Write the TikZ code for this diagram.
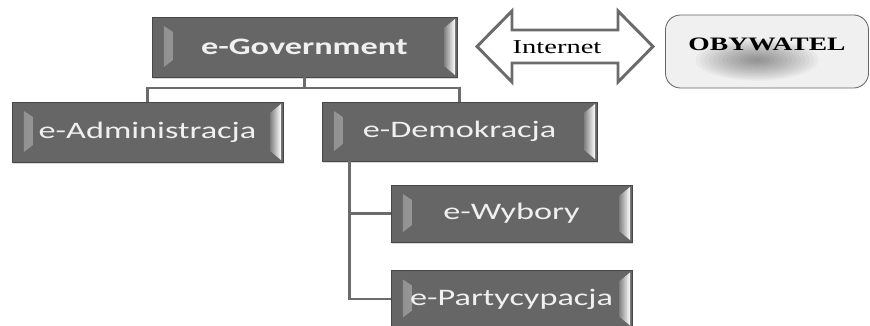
\documentclass[tikz,border=0pt]{standalone}
\usepackage{fontspec}
\setmainfont{Liberation Serif}
\newfontfamily\calibri{Carlito}
\usetikzlibrary{shadows}
\newcommand{\wtext}[1]{\scalebox{1.45}[1]{#1}}
\tikzset{
	smartbox/.style={rectangle, fill=black!60, draw=black!72, line width=0.6pt, text=white!94!black, inner sep=0pt,
		font=\calibri\fontsize{16.8}{18}\selectfont,
		drop shadow={opacity=0.3, shadow xshift=1pt, shadow yshift=-1.5pt},
		path picture={
			\shade[left color=black!45, right color=white] ([shift={(0.3cm,-0.225cm)}]path picture bounding box.north west) -- ([shift={(0.525cm,-0.375cm)}]path picture bounding box.north west) -- ([shift={(0.525cm,0.425cm)}]path picture bounding box.south west) -- ([shift={(0.3cm,0.25cm)}]path picture bounding box.south west) -- cycle;
			\shade[left color=black!50, right color=white] ([shift={(-0.325cm,-0.275cm)}]path picture bounding box.north east) -- ([shift={(-0.05cm,-0.05cm)}]path picture bounding box.north east) -- ([shift={(-0.05cm,0.05cm)}]path picture bounding box.south east) -- ([shift={(-0.325cm,0.275cm)}]path picture bounding box.south east) -- cycle;
		}},
	link/.style={draw=black!58, line width=2.1pt},
	citizen/.style={rectangle, rounded corners=0.375cm, draw=black!60, line width=0.6pt, fill=black!6, inner sep=0pt,
		text height=0.3cm, text depth=0.35cm,
		font=\bfseries\fontsize{13.5}{15}\selectfont,
		path picture={
			\foreach \r in {1,...,14}
				\fill[black, opacity=0.03] ([shift={(-0.25cm,-0.21cm)}]path picture bounding box.center) ellipse ({0.11cm*\r} and {0.037cm*\r});
		}}
}
\begin{document}
\begin{tikzpicture}[x=0.025cm,y=-0.025cm]
\useasboundingbox (0,0) rectangle (870,326);

% tree of boxes
\node[smartbox, minimum width=7.625cm, minimum height=1.5cm] (gov) at (304.5,47) {\wtext{\textbf{e-Government}}};
\node[smartbox, minimum width=6.775cm, minimum height=1.5cm] (adm) at (147.5,132) {\wtext{e-Administracja}};
\node[smartbox, minimum width=6.875cm, minimum height=1.475cm] (dem) at (459.5,131.5) {\wtext{e-Demokracja}};
\node[smartbox, minimum width=6.025cm, minimum height=1.425cm] (wyb) at (511.5,213.5) {\wtext{e-Wybory}};
\node[smartbox, minimum width=6.025cm, minimum height=1.425cm] (par) at (511.5,299) {\wtext{e-Partycypacja}};

\coordinate (bus) at (304.5,88);
\coordinate (trunk) at ([xshift=0.7cm]dem.south west);
\draw[link] (gov.south) -- (bus);
\draw[link] (adm.north) |- (bus) -| (dem.north);
\draw[link] (trunk) |- (wyb.west) (trunk) |- (par.west);

% internet arrow
\draw[draw=black!58, line width=2.1pt, fill=white, line join=miter] (477,46.5) -- (512,11) -- (512,30) -- (618,30) -- (618,11) -- (653,46.5) -- (618,82) -- (618,63) -- (512,63) -- (512,82) -- cycle;
\node[font=\fontsize{14}{16}\selectfont, inner sep=0pt] (net) at (557,47) {\wtext{Internet}};

\node[citizen, minimum width=5.075cm, minimum height=1.825cm] (obywatel) at (767,51.5) {\wtext{OBYWATEL}};
\end{tikzpicture}
\end{document}
